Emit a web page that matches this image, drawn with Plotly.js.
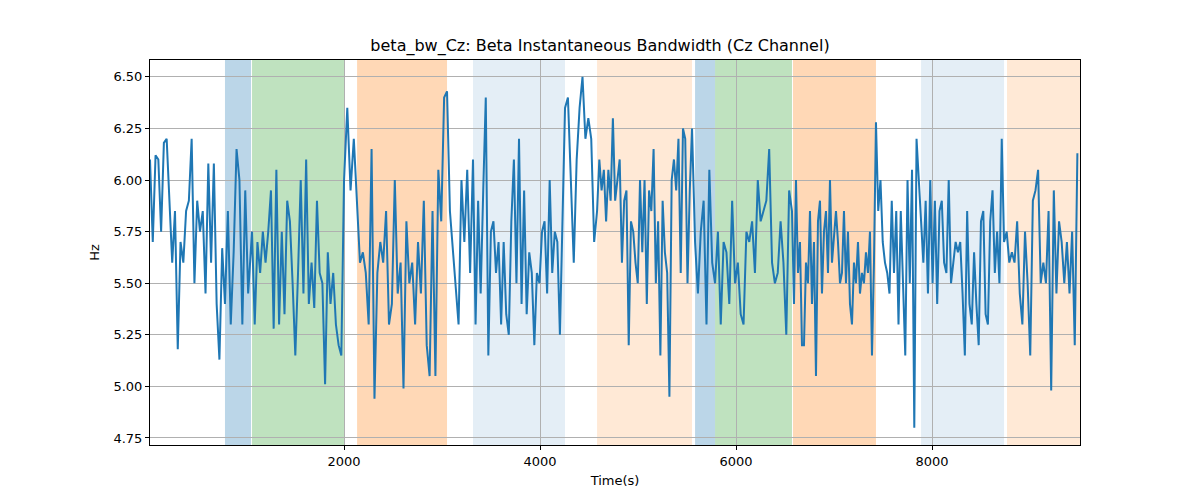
<!DOCTYPE html>
<html>
<head>
<meta charset="utf-8">
<script src="https://cdn.plot.ly/plotly-3.0.1.min.js"></script>
<style>body{margin:0;background:#fff}#chart{width:1200px;height:500px}</style>
</head>
<body>
<div id="chart"></div>
<script>
// samples, grouped by time segment [start, end]
var segBounds = [
  [20, 785], [785, 1051], [1061, 2000], [2000, 2133], [2133, 3051], [3051, 3316],
  [3316, 4255], [4255, 4582], [4582, 5551], [5551, 5582], [5582, 5786], [5786, 6571],
  [6571, 7428], [7428, 7888], [7888, 8735], [8735, 9510]
];
var segValues = [
  [6.1, 5.7, 6.12, 6.1, 5.75, 6.18, 6.2, 5.9, 5.6, 5.85, 5.18, 5.7, 5.6, 5.85, 5.9, 6.2, 5.5, 5.9, 5.75, 5.85, 5.45, 6.08, 5.6, 6.08, 5.4, 5.13, 5.67],
  [5.4, 5.85, 5.3, 5.65, 6.15, 6.0, 5.3, 5.95, 5.45],
  [5.75, 5.3, 5.7, 5.55, 5.75, 5.6, 5.75, 5.95, 5.28, 6.05, 5.3, 5.75, 5.35, 5.9, 5.8, 5.5, 5.15, 5.55, 6.0, 5.45, 6.1, 5.4, 5.6, 5.38, 5.9, 5.55, 5.5, 5.01, 5.65, 5.4, 5.55, 5.3, 5.2, 5.15],
  [6.0, 6.35, 5.95, 6.2],
  [5.9, 5.6, 5.65, 5.55, 5.3, 6.15, 4.94, 5.55, 5.7, 5.6, 5.85, 5.3, 5.4, 6.0, 5.45, 5.6, 4.99, 5.8, 5.5, 5.6, 5.3, 5.7, 5.45, 5.9, 5.2, 5.05, 5.85, 5.05, 6.05, 5.8, 6.4],
  [6.43, 5.85, 5.65, 5.5, 5.3, 6.0, 5.7, 6.05, 5.55],
  [6.1, 5.3, 5.9, 5.45, 5.95, 6.4, 5.15, 5.75, 5.8, 5.55, 5.7, 5.3, 5.7, 5.35, 5.25, 5.8, 6.1, 5.5, 6.2, 5.4, 5.95, 5.35, 5.65, 5.55, 5.2, 5.55, 5.5, 5.75, 5.8, 5.45, 6.0, 5.55, 5.75, 5.7, 5.25, 5.8],
  [6.35, 6.4, 6.0, 5.6, 6.1, 6.35, 6.5, 6.2, 6.3, 6.2, 5.7],
  [5.85, 6.1, 5.95, 6.05, 5.8, 6.05, 5.9, 6.3, 5.9, 6.0, 6.1, 5.6, 5.9, 5.95, 5.2, 5.8, 5.75, 5.6, 5.5, 6.0, 5.65, 6.0, 5.4, 5.95, 5.85, 6.15, 5.5, 5.8, 5.15, 5.9, 5.65, 5.55, 4.95, 6.0, 6.1, 5.95, 6.2, 5.55, 6.25, 6.2, 5.5, 5.95],
  [6.25],
  [5.7, 5.45, 5.75, 5.9, 5.3, 6.05, 5.6],
  [5.5, 5.75, 5.3, 5.7, 5.65, 5.4, 5.9, 5.5, 5.6, 5.35, 5.3, 5.75, 5.7, 5.8, 5.55, 6.0, 5.8, 5.85, 5.9, 6.15, 5.6, 5.5, 5.55, 5.8, 5.6, 5.25, 5.95],
  [5.85, 5.4, 6.0, 5.55, 5.7, 5.2, 5.2, 5.6, 5.5, 5.85, 5.4, 5.7, 5.05, 5.8, 5.9, 5.45, 5.75, 5.85, 5.55, 6.0, 5.6, 5.75, 5.85, 5.7, 5.5, 5.55, 5.85, 5.5, 5.75, 5.4, 5.3, 5.6, 5.5, 5.7, 5.45, 5.55, 5.5, 5.65, 5.55, 5.75, 5.15, 5.6],
  [6.28, 5.85, 6.0, 5.7, 5.6, 5.55, 5.45, 5.9, 5.55, 5.85, 5.3, 5.85, 5.5, 5.15, 6.0, 5.5, 6.05, 4.8, 6.2, 6.0],
  [5.75, 5.6, 5.9, 5.45, 6.0, 5.5, 5.9, 5.4, 5.85, 5.9, 5.6, 5.55, 6.0, 5.5, 5.6, 5.7, 5.65, 5.7, 5.45, 5.15, 5.85, 5.4, 5.3, 5.65, 5.4, 5.2, 5.8, 5.85, 5.35, 5.3, 5.8, 5.95, 5.55, 5.75, 5.5, 6.2],
  [5.7, 5.75, 5.6, 5.65, 5.6, 5.8, 5.45, 5.3, 5.75, 5.5, 5.15, 5.9, 5.95, 6.05, 5.5, 5.6, 5.5, 5.85, 4.98, 5.95, 5.45, 5.8, 5.7, 5.5, 5.7, 5.45, 5.75, 5.2, 6.13]
];

// shaded event bands
var bandStarts = [785, 1061, 2133, 3316, 4582, 5582, 5786, 6581, 7888, 8765];
var bandEnds   = [1051, 2000, 3051, 4255, 5551, 5786, 6571, 7428, 8735, 9510];
var bandColors = ['rgba(31,119,180,0.3)', 'rgba(44,160,44,0.3)', 'rgba(255,127,14,0.3)',
  'rgba(31,119,180,0.12)', 'rgba(255,127,14,0.17)', 'rgba(31,119,180,0.3)',
  'rgba(44,160,44,0.3)', 'rgba(255,127,14,0.3)', 'rgba(31,119,180,0.12)', 'rgba(255,127,14,0.17)'];

var xs = [], ys = [];
segValues.forEach(function(vals, s) {
  var a = segBounds[s][0], b = segBounds[s][1], n = vals.length;
  vals.forEach(function(v, i) {
    xs.push(a + (b - a) * i / n);
    ys.push(v);
  });
});

var shapes = bandStarts.map(function(s, i) {
  return {
    type: 'rect', xref: 'x', yref: 'paper', x0: s, x1: bandEnds[i], y0: 0, y1: 1,
    fillcolor: bandColors[i], line: { width: 0 }, layer: 'below'
  };
});

var axisStyle = {
  showline: true, linecolor: '#000', linewidth: 1, mirror: true,
  ticks: 'outside', ticklen: 4, tickcolor: '#000',
  showgrid: true, gridcolor: '#b0b0b0', gridwidth: 1, zeroline: false,
  tickfont: { size: 13, color: '#000' }
};

var layout = {
  width: 1200, height: 500,
  paper_bgcolor: '#fff', plot_bgcolor: 'rgba(0,0,0,0)',
  margin: { l: 150, r: 120, t: 60, b: 55 },
  font: { family: 'DejaVu Sans, sans-serif', color: '#000', size: 13 },
  title: { text: 'beta_bw_Cz: Beta Instantaneous Bandwidth (Cz Channel)', font: { size: 16 }, x: 0.5, y: 0.92, xanchor: 'center' },
  xaxis: Object.assign({}, axisStyle, {
    range: [20, 9510], tickvals: [2000, 4000, 6000, 8000],
    title: { text: 'Time(s)', font: { size: 13 }, standoff: 8 }
  }),
  yaxis: Object.assign({}, axisStyle, {
    range: [4.716, 6.582], tickvals: [4.75, 5, 5.25, 5.5, 5.75, 6, 6.25, 6.5], tickformat: '.2f',
    title: { text: 'Hz', font: { size: 13 }, standoff: 10 }
  }),
  shapes: shapes,
  showlegend: false
};

Plotly.newPlot('chart', [{
  x: xs, y: ys, type: 'scatter', mode: 'lines',
  line: { color: '#1f77b4', width: 2 }
}], layout, { displayModeBar: false, staticPlot: true });
</script>
</body>
</html>
